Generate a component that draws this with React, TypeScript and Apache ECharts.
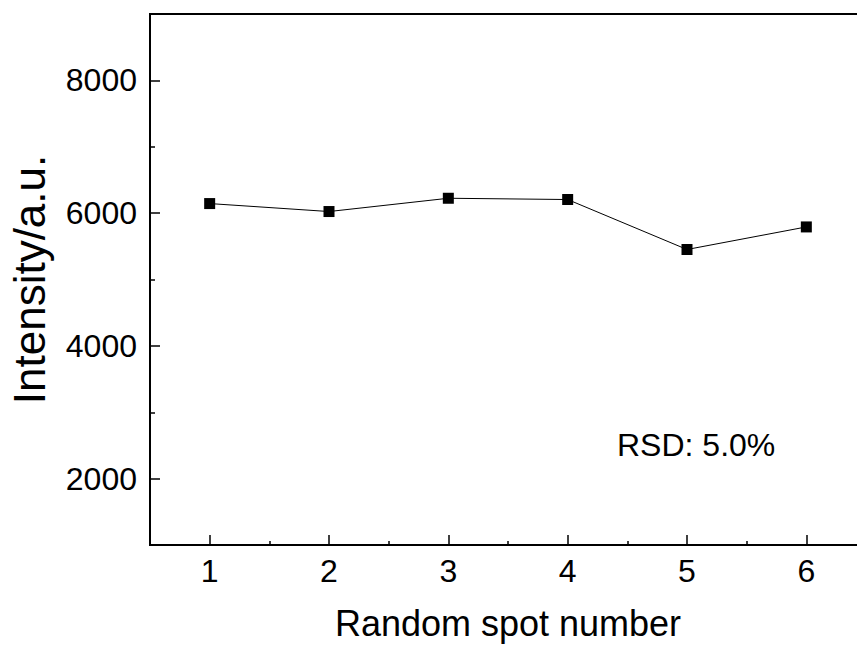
import React, { useEffect, useRef } from "react";
import * as echarts from "echarts";

const spotNumbers = [1, 2, 3, 4, 5, 6];
const intensities = [6144, 6024, 6224, 6205, 5452, 5792];
const xMajorTicks = [1, 2, 3, 4, 5, 6];
const xMinorTicks = [1.5, 2.5, 3.5, 4.5, 5.5];
const yMajorTicks = [2000, 4000, 6000, 8000];
const yMinorTicks = [3000, 5000, 7000];
const xTitle = "Random spot number";
const yTitle = "Intensity/a.u.";
const rsdLabel = "RSD: 5.0%";

const FONT = "'Liberation Sans', Arial, sans-serif";

export default function App() {
  const ref = useRef<HTMLDivElement>(null);

  useEffect(() => {
    if (!ref.current) return;
    const chart = echarts.init(ref.current, null, { renderer: "svg" });
    const axisLine = { show: true, lineStyle: { color: "#000", width: 2 } };
    const tickStyle = { color: "#000", width: 1.5 };
    chart.setOption({
      animation: false,
      backgroundColor: "#fff",
      textStyle: { fontFamily: FONT },
      grid: {
        left: 150,
        top: 14,
        width: 716,
        height: 531,
        show: true,
        borderColor: "#000",
        borderWidth: 2,
        backgroundColor: "transparent",
        outerBoundsMode: "none",
      },
      xAxis: [
        {
          type: "value",
          min: 0.5,
          max: 6.5,
          position: "bottom",
          axisLine,
          axisTick: {
            show: true,
            inside: true,
            length: 10,
            customValues: xMajorTicks,
            lineStyle: tickStyle,
          },
          axisLabel: {
            show: true,
            customValues: xMajorTicks,
            fontSize: 32,
            color: "#000",
            margin: 10,
            fontFamily: FONT,
            formatter: (v: number) => String(v),
          },
          splitLine: { show: false },
          name: xTitle,
          nameLocation: "middle",
          nameGap: 60,
          nameTextStyle: { fontSize: 36, color: "#000", fontFamily: FONT },
        },
        {
          type: "value",
          min: 0.5,
          max: 6.5,
          position: "bottom",
          offset: 0,
          axisLine: { show: false },
          axisTick: {
            show: true,
            inside: true,
            length: 4,
            customValues: xMinorTicks,
            lineStyle: tickStyle,
          },
          axisLabel: { show: false },
          splitLine: { show: false },
        },
      ],
      yAxis: [
        {
          type: "value",
          min: 1000,
          max: 9000,
          position: "left",
          axisLine,
          axisTick: {
            show: true,
            inside: true,
            length: 10,
            customValues: yMajorTicks,
            lineStyle: tickStyle,
          },
          axisLabel: {
            show: true,
            customValues: yMajorTicks,
            fontSize: 32,
            color: "#000",
            margin: 13,
            fontFamily: FONT,
            formatter: (v: number) => String(v),
          },
          splitLine: { show: false },
          name: yTitle,
          nameLocation: "middle",
          nameGap: 99,
          nameTextStyle: { fontSize: 44, color: "#000", fontFamily: FONT },
        },
        {
          type: "value",
          min: 1000,
          max: 9000,
          position: "left",
          offset: 0,
          axisLine: { show: false },
          axisTick: {
            show: true,
            inside: true,
            length: 5,
            customValues: yMinorTicks,
            lineStyle: tickStyle,
          },
          axisLabel: { show: false },
          splitLine: { show: false },
        },
      ],
      graphic: [
        {
          type: "text",
          left: 617,
          top: 429,
          style: {
            text: rsdLabel,
            fontSize: 32,
            fill: "#000",
            fontFamily: FONT,
          },
        },
      ],
      series: [
        {
          type: "line",
          xAxisIndex: 0,
          yAxisIndex: 0,
          data: spotNumbers.map((x, i) => [x, intensities[i]]),
          symbol: "rect",
          symbolSize: 11,
          itemStyle: { color: "#000" },
          lineStyle: { color: "#000", width: 1 },
        },
      ],
    });
    return () => chart.dispose();
  }, []);

  return (
    <div
      ref={ref}
      style={{ position: "fixed", left: 0, top: 0, width: 857, height: 646 }}
    />
  );
}
